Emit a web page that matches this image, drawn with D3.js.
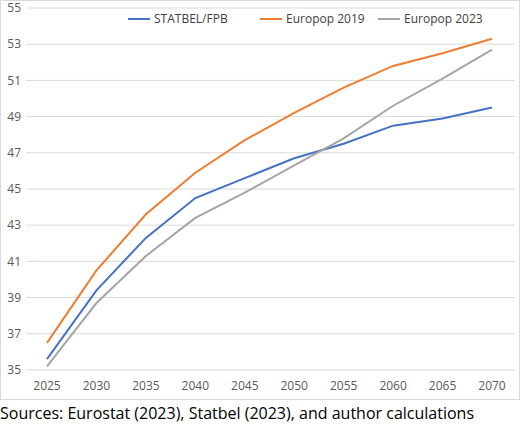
<!DOCTYPE html>
<html><head><meta charset="utf-8">
<script src="https://cdn.jsdelivr.net/npm/d3@7.9.0/dist/d3.min.js"></script>
<style>body{margin:0;background:#fff;font-family:"Open Sans",sans-serif;}</style>
</head><body><svg id="chart" width="520" height="426"></svg>
<script>
const years = [2025, 2030, 2035, 2040, 2045, 2050, 2055, 2060, 2065, 2070];
const statbel = [35.6, 39.4, 42.3, 44.5, 45.6, 46.7, 47.5, 48.5, 48.9, 49.5];
const europop2019 = [36.5, 40.5, 43.6, 45.9, 47.7, 49.2, 50.6, 51.8, 52.5, 53.3];
const europop2023 = [35.2, 38.7, 41.3, 43.4, 44.8, 46.3, 47.8, 49.6, 51.1, 52.7];
const yTicks = [35, 37, 39, 41, 43, 45, 47, 49, 51, 53, 55];
const series = [
  { name: 'STATBEL/FPB', values: statbel, color: '#4472c4' },
  { name: 'Europop 2019', values: europop2019, color: '#ed7d31' },
  { name: 'Europop 2023', values: europop2023, color: '#a5a5a5' }
];

const svg = d3.select('#chart');
const x = d3.scalePoint().domain(years).range([47, 492]);
const y = d3.scaleLinear().domain([35, 55]).range([370, 8]);

// frame
svg.append('rect').attr('x', 0.5).attr('y', 0.5).attr('width', 519).attr('height', 399)
  .attr('fill', 'none').attr('stroke', '#d9d9d9');

// gridlines
svg.append('g').selectAll('line').data(yTicks).join('line')
  .attr('x1', 26).attr('x2', 515)
  .attr('y1', d => y(d)).attr('y2', d => y(d))
  .attr('stroke', '#d9d9d9');

// y labels
svg.append('g').selectAll('text').data(yTicks).join('text')
  .attr('x', 21).attr('y', d => y(d)).attr('dy', '0.35em')
  .attr('text-anchor', 'end').attr('font-size', 12).attr('fill', '#595959')
  .text(d => d);

// x labels
svg.append('g').selectAll('text').data(years).join('text')
  .attr('x', d => x(d)).attr('y', 390)
  .attr('text-anchor', 'middle').attr('font-size', 12).attr('fill', '#595959')
  .text(d => d);

const line = d3.line().x((d, i) => x(years[i])).y(d => y(d));
svg.append('g').selectAll('path').data(series).join('path')
  .attr('d', d => line(d.values))
  .attr('fill', 'none').attr('stroke', d => d.color).attr('stroke-width', 2);

// legend
const lg = svg.append('g').selectAll('g').data(series).join('g')
  .attr('transform', (d, i) => `translate(${[128, 260, 378][i]},19)`);
lg.append('line').attr('x1', 0).attr('x2', 22).attr('stroke', d => d.color).attr('stroke-width', 2);
lg.append('text').attr('x', 26).attr('dy', '0.35em').attr('font-size', 12).attr('fill', '#404040')
  .text(d => d.name);

svg.append('text').attr('x', 0).attr('y', 419).attr('font-size', 16).attr('fill', '#000')
  .text('Sources: Eurostat (2023), Statbel (2023), and author calculations');
</script></body></html>
